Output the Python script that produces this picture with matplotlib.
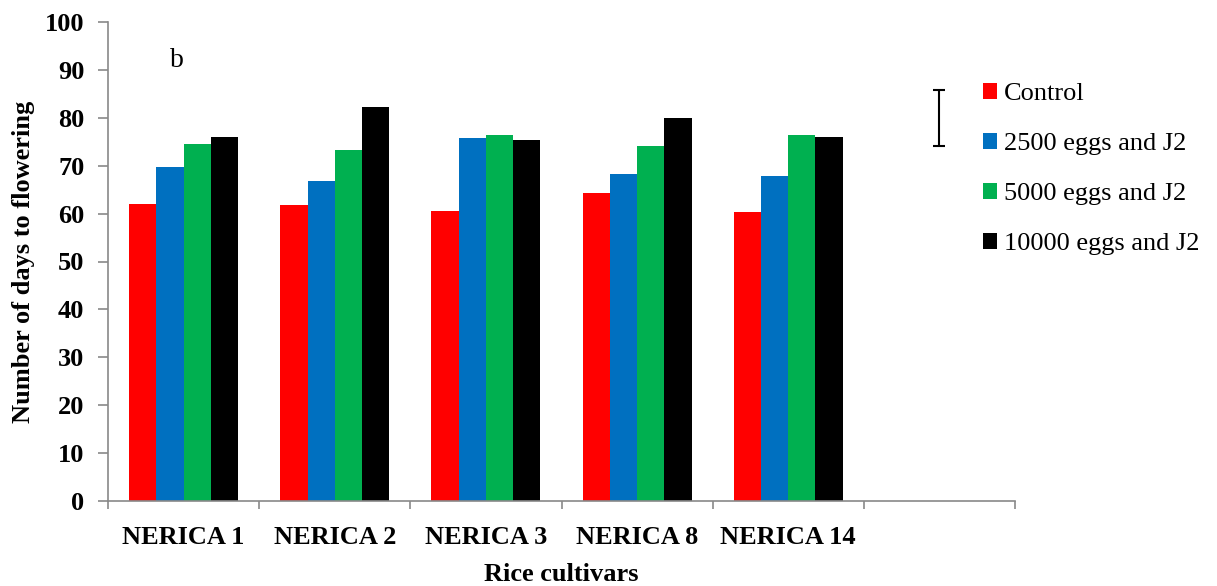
#!/usr/bin/env python3
# -*- coding: utf-8 -*-

import matplotlib
matplotlib.use('Agg')
import matplotlib.pyplot as plt
import numpy as np

# data
cultivars = ['NERICA 1', 'NERICA 2', 'NERICA 3', 'NERICA 8', 'NERICA 14']
series_names = ['Control', '2500 eggs and J2', '5000 eggs and J2', '10000 eggs and J2']
control = [62.0, 61.7, 60.5, 64.3, 60.3]
eggs_2500 = [69.8, 66.8, 75.8, 68.3, 67.8]
eggs_5000 = [74.5, 73.3, 76.5, 74.2, 76.5]
eggs_10000 = [76.0, 82.3, 75.3, 80.0, 76.0]
lsd_low, lsd_high = 74.2, 85.9   # error bar shown in the empty slot

colors = ['#FF0000', '#0070C0', '#00B050', '#000000']


def plot():
    plt.rcParams['font.family'] = ['Liberation Serif', 'DejaVu Serif']
    fig = plt.figure(figsize=(12.17, 5.86), dpi=100)
    ax = fig.add_axes([108 / 1217, 1 - 501 / 586, (1015 - 108) / 1217, (501 - 22) / 586])

    n_slots = len(cultivars) + 1
    centers = np.arange(len(cultivars)) + 0.5
    width = 0.18
    values = [control, eggs_2500, eggs_5000, eggs_10000]
    for i, (vals, name) in enumerate(zip(values, series_names)):
        ax.bar(centers + (i - 1.5) * width, vals, width, color=colors[i],
               label=name, linewidth=0)

    # error bar in the empty last slot
    mid = (lsd_low + lsd_high) / 2
    ax.errorbar([n_slots - 0.5], [mid], yerr=[(lsd_high - lsd_low) / 2], fmt='none',
                ecolor='k', elinewidth=1.5, capsize=4.3, capthick=1.5)

    ax.text(0.457, 92, 'b', fontsize=20, ha='center', va='center')

    # axes
    ax.set_xlim(0, n_slots)
    ax.set_ylim(0, 100)
    ax.set_yticks(np.arange(0, 101, 10))
    ax.set_xticks(np.arange(n_slots + 1))
    ax.set_xticklabels([])
    ax.set_xticks(centers, minor=True)
    ax.set_xticklabels(cultivars, minor=True, fontsize=19, fontweight='bold')
    for lab in ax.get_yticklabels():
        lab.set_fontweight('bold')
        lab.set_fontsize(19)

    grey = '#898989'
    for s in ['top', 'right']:
        ax.spines[s].set_visible(False)
    for s in ['left', 'bottom']:
        ax.spines[s].set_color(grey)
        ax.spines[s].set_linewidth(1.2)
    ax.tick_params(axis='y', which='major', direction='out', length=7, width=1.2,
                   color=grey, pad=10)
    ax.tick_params(axis='x', which='major', direction='out', length=6, width=1.2,
                   color=grey)
    ax.tick_params(axis='x', which='minor', length=0, pad=18)

    ax.set_xlabel('Rice cultivars', fontsize=19, fontweight='bold', labelpad=10)
    ax.set_ylabel('Number of days to flowering', fontsize=19, fontweight='bold',
                  labelpad=7)

    fig.legend(loc='upper left', bbox_to_anchor=(983 / 1217, 1 - 83 / 586),
               bbox_transform=fig.transFigure, frameon=False, fontsize=19,
               handlelength=0.53, handleheight=0.53, handletextpad=0.25,
               labelspacing=1.06, borderpad=0, borderaxespad=0)

    fig.savefig('out.png', dpi=100)


def main():
    plot()


if __name__ == '__main__':
    main()
